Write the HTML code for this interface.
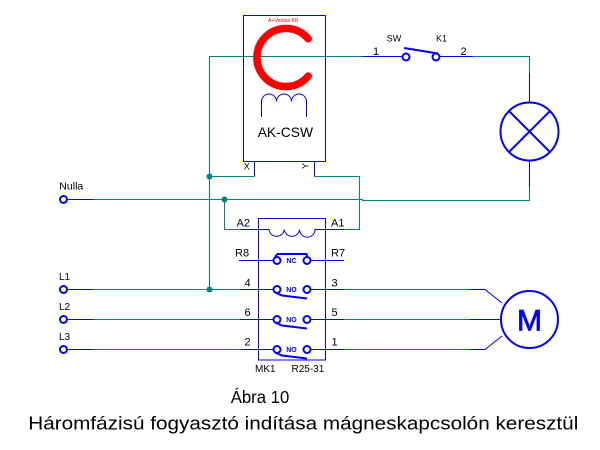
<!DOCTYPE html>
<html><head><meta charset="utf-8"><style>
html,body{margin:0;padding:0;background:#fff;}
svg{display:block;}
text{font-family:"Liberation Sans",Arial,sans-serif;}
</style></head><body>
<svg width="600" height="450" viewBox="0 0 600 450" xmlns="http://www.w3.org/2000/svg">
<rect width="600" height="450" fill="#fff"/>
<g fill="none" stroke="#008080" stroke-width="1">
  <path d="M209.5 56.5 H363"/>
  <path d="M473 56.5 H529.5 V73"/>
  <path d="M529.5 187 V200.5 H362"/>
  <path d="M209.5 56.5 V289.5"/>
  <path d="M209.5 176.5 H254.5"/>
  <path d="M314.5 176.5 H359.5 V229.5 H344"/>
  <path d="M93 199.5 H363"/>
  <path d="M224.5 199.5 V229.5 H240"/>
  <path d="M93 289.5 H240"/>
  <path d="M93 319.5 H240"/>
  <path d="M93 349.5 H240"/>
  <path d="M344 289.5 H470"/>
  <path d="M344 319.5 H470"/>
  <path d="M344 349.5 H470"/>
</g>
<g fill="#008080">
  <circle cx="209.5" cy="176.5" r="3"/>
  <circle cx="224.5" cy="199.5" r="3"/>
  <circle cx="209.5" cy="289.5" r="3"/>
</g>
<g fill="none" stroke="#0000ff" stroke-width="1">
  <rect x="243.5" y="15.5" width="82" height="146"/>
  <path d="M254.5 161.5 V176.5"/>
  <path d="M314.5 161.5 V176.5"/>
  <path d="M261.5 117 V101.5 A7.5 7.5 0 0 1 276.5 101.5 A7.5 7.5 0 0 1 291.5 101.5 A7.5 7.5 0 0 1 306.5 101.5 V117"/>
  <path d="M363 56.5 H402.5"/>
  <path d="M439.5 56.5 H473"/>
  <path d="M529.5 73 V102.5"/>
  <path d="M529.5 160.5 V187"/>
  <path d="M67 199.5 H93"/>
  <path d="M67 289.5 H93"/>
  <path d="M67 319.5 H93"/>
  <path d="M67 349.5 H93"/>
  <rect x="258.5" y="218.5" width="67" height="141.5"/>
  <path d="M240 229.5 H269 A7.7 7.7 0 0 0 284.3 229.5 A7.7 7.7 0 0 0 299.6 229.5 A7.7 7.7 0 0 0 315 229.5 H344"/>
  <path d="M239 260.5 H273"/>
  <path d="M310.5 260.5 H344"/>
  <path d="M240 289.5 H273"/>
  <path d="M310.5 289.5 H344"/>
  <path d="M240 319.5 H273"/>
  <path d="M310.5 319.5 H344"/>
  <path d="M240 349.5 H273"/>
  <path d="M310.5 349.5 H344"/>
  <path d="M470 289.5 H485 L502 303"/>
  <path d="M470 319.5 H501"/>
  <path d="M470 349.5 H485 L502 336"/>
</g>
<g fill="none" stroke="#0000ff" stroke-width="2">
  <circle cx="63.5" cy="199.5" r="3.5"/>
  <circle cx="63.5" cy="289.5" r="3.5"/>
  <circle cx="63.5" cy="319.5" r="3.5"/>
  <circle cx="63.5" cy="349.5" r="3.5"/>
  <circle cx="406" cy="57" r="3.5"/>
  <circle cx="436" cy="57" r="3.5"/>
  <path d="M404 48 L438 53.5"/>
  <circle cx="529.5" cy="131.5" r="29"/>
  <path d="M509 111 L550 152 M550 111 L509 152"/>
  <circle cx="529.5" cy="319.5" r="28.5"/>
  <circle cx="277" cy="260.5" r="3.5"/>
  <circle cx="307" cy="260.5" r="3.5"/>
  <path d="M275 257 L277.5 254 H306.5 L307 256.5"/>
  <circle cx="277" cy="289.5" r="3.5"/>
  <circle cx="307" cy="289.5" r="3.5"/>
  <path d="M276 293 L282 295.5 L307 298.5"/>
  <circle cx="277" cy="319.5" r="3.5"/>
  <circle cx="307" cy="319.5" r="3.5"/>
  <path d="M276 323 L282 325.5 L307 328.5"/>
  <circle cx="277" cy="349.5" r="3.5"/>
  <circle cx="307" cy="349.5" r="3.5"/>
  <path d="M276 353 L282 355.5 L307 358.5"/>
</g>
<path d="M308.2 38.9 A29 29 0 1 0 308.2 76.1" fill="none" stroke="#ff0000" stroke-width="7.5" stroke-linecap="round"/>
<text x="283" y="22" font-size="5" fill="#ff0000" text-anchor="middle" textLength="30" lengthAdjust="spacingAndGlyphs">A+Veritas Kft</text>
<g fill="#000">
  <text x="257.7" y="137" font-size="14" textLength="55.3" lengthAdjust="spacingAndGlyphs">AK-CSW</text>
  <text x="246.7" y="169.5" font-size="9" text-anchor="middle">X</text>
  <text transform="translate(306,166) rotate(-90)" font-size="9" text-anchor="middle" dominant-baseline="middle">Y</text>
  <text x="386.7" y="41.7" font-size="9">SW</text>
  <text x="436" y="41.7" font-size="9">K1</text>
  <text x="373" y="55" font-size="11">1</text>
  <text x="460.5" y="55" font-size="11">2</text>
  <text x="59.3" y="189.5" font-size="10" textLength="24" lengthAdjust="spacingAndGlyphs">Nulla</text>
  <text x="59" y="280" font-size="10">L1</text>
  <text x="59" y="310" font-size="10">L2</text>
  <text x="59" y="340" font-size="10">L3</text>
  <text x="236.5" y="226.7" font-size="11">A2</text>
  <text x="331" y="226.7" font-size="11">A1</text>
  <text x="235" y="256.7" font-size="11">R8</text>
  <text x="331" y="256.7" font-size="11">R7</text>
  <text x="244.5" y="286.7" font-size="11">4</text>
  <text x="331.5" y="286.7" font-size="11">3</text>
  <text x="244.5" y="316" font-size="11">6</text>
  <text x="331.5" y="316" font-size="11">5</text>
  <text x="244.5" y="345.5" font-size="11">2</text>
  <text x="331.5" y="345.5" font-size="11">1</text>
  <text x="255" y="372" font-size="10">MK1</text>
  <text x="291.5" y="372" font-size="10">R25-31</text>
  <text x="230.7" y="403" font-size="17.5" textLength="58.6" lengthAdjust="spacingAndGlyphs">Ábra 10</text>
  <text x="28.3" y="429.3" font-size="18.5" textLength="550" lengthAdjust="spacingAndGlyphs">Háromfázisú fogyasztó indítása mágneskapcsolón keresztül</text>
</g>
<g fill="#0000ff" font-weight="bold" font-size="7" text-anchor="middle">
  <text x="291.5" y="263">NC</text>
  <text x="291.5" y="292">NO</text>
  <text x="291.5" y="322">NO</text>
  <text x="291.5" y="352">NO</text>
</g>
<text x="529.5" y="330.5" font-size="30" fill="#0000ff" stroke="#0000ff" stroke-width="0.8" text-anchor="middle">M</text>
</svg>
</body></html>
